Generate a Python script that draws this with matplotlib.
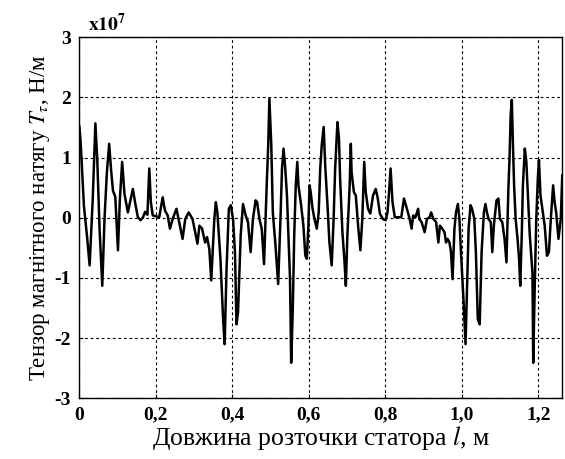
import numpy as np
import matplotlib
matplotlib.use("Agg")
import matplotlib.pyplot as plt

# Tangential magnetic tension along the stator bore (values in units of 1e7 N/m)
l_m = [0.000, 0.003, 0.006, 0.012, 0.020, 0.027, 0.035, 0.042, 0.047, 0.053,
       0.060, 0.066, 0.072, 0.078, 0.083, 0.088, 0.094, 0.101, 0.106, 0.112,
       0.118, 0.127, 0.134, 0.140, 0.146, 0.153, 0.160, 0.166, 0.172, 0.178,
       0.183, 0.187, 0.192, 0.209, 0.218, 0.224, 0.231, 0.237, 0.244, 0.254,
       0.261, 0.270, 0.277, 0.286, 0.296, 0.309, 0.314, 0.321, 0.329, 0.334,
       0.340, 0.345, 0.353, 0.357, 0.361, 0.369, 0.376, 0.380, 0.385, 0.391,
       0.396, 0.402, 0.407, 0.411, 0.415, 0.422, 0.428, 0.435, 0.441, 0.448,
       0.454, 0.461, 0.465, 0.471, 0.477, 0.483, 0.490, 0.494, 0.497, 0.502,
       0.506, 0.513, 0.520, 0.526, 0.530, 0.534, 0.538, 0.543, 0.547, 0.551,
       0.554, 0.558, 0.562, 0.566, 0.570, 0.573, 0.580, 0.586, 0.591, 0.595,
       0.599, 0.602, 0.605, 0.610, 0.615, 0.621, 0.626, 0.630, 0.634, 0.639,
       0.643, 0.649, 0.654, 0.660, 0.665, 0.669, 0.675, 0.679, 0.682, 0.688,
       0.693, 0.697, 0.701, 0.707, 0.710, 0.712, 0.718, 0.723, 0.729, 0.735,
       0.740, 0.745, 0.749, 0.755, 0.761, 0.768, 0.775, 0.780, 0.786, 0.794,
       0.801, 0.806, 0.810, 0.814, 0.819, 0.825, 0.834, 0.842, 0.849, 0.854,
       0.858, 0.864, 0.869, 0.873, 0.879, 0.886, 0.889, 0.895, 0.903, 0.909,
       0.916, 0.920, 0.926, 0.933, 0.939, 0.943, 0.949, 0.955, 0.959, 0.963,
       0.968, 0.972, 0.976, 0.981, 0.985, 0.990, 0.994, 0.998, 1.005, 1.010,
       1.014, 1.018, 1.023, 1.027, 1.033, 1.037, 1.042, 1.047, 1.052, 1.058,
       1.062, 1.066, 1.070, 1.076, 1.080, 1.084, 1.091, 1.096, 1.100, 1.106,
       1.112, 1.117, 1.122, 1.125, 1.128, 1.131, 1.134, 1.137, 1.141, 1.146,
       1.150, 1.153, 1.157, 1.160, 1.165, 1.169, 1.173, 1.178, 1.185, 1.187,
       1.191, 1.195, 1.199, 1.202, 1.206, 1.212, 1.217, 1.223, 1.228, 1.233,
       1.239, 1.243, 1.247, 1.253, 1.259, 1.263, 1.267]
T_tau = [1.52, 1.30, 0.95, 0.20, -0.30, -0.79, 0.30, 1.57, 0.95, -0.20,
         -1.13, 0.00, 0.75, 1.23, 0.80, 0.45, 0.35, -0.54, 0.30, 0.93,
         0.40, 0.09, 0.30, 0.48, 0.25, 0.01, -0.04, 0.00, 0.10, 0.05,
         0.82, 0.26, 0.04, 0.01, 0.34, 0.12, 0.04, -0.18, -0.02, 0.15,
         -0.07, -0.35, -0.02, 0.09, -0.02, -0.43, -0.13, -0.18, -0.41, -0.32,
         -0.52, -1.04, -0.02, 0.26, 0.09, -0.68, -1.68, -2.10, -0.85, 0.15,
         0.21, -0.02, -0.57, -1.77, -1.57, -0.29, 0.23, 0.04, -0.07, -0.57,
         -0.02, 0.29, 0.26, -0.02, -0.18, -0.77, 0.54, 1.21, 1.98, 1.21,
         0.09, -0.46, -1.10, -0.02, 0.82, 1.15, 0.87, 0.37, -0.35, -1.02,
         -2.41, -1.57, -0.29, 0.54, 0.93, 0.54, 0.21, -0.13, -0.63, -0.68,
         -0.13, 0.54, 0.43, 0.15, -0.02, -0.18, 0.09, 0.82, 1.21, 1.51,
         0.87, 0.21, -0.41, -0.79, -0.02, 0.82, 1.59, 1.32, 0.65, -0.24,
         -0.68, -1.13, -0.29, 0.54, 1.23, 0.76, 0.43, 0.37, -0.13, -0.54,
         -0.02, 0.93, 0.43, 0.15, 0.07, 0.37, 0.48, 0.34, 0.07, -0.02,
         -0.04, 0.09, 0.43, 0.82, 0.26, 0.01, 0.01, 0.01, 0.32, 0.21,
         0.12, -0.02, -0.18, 0.04, 0.01, 0.15, -0.02, -0.07, -0.24, -0.02,
         0.01, 0.09, -0.02, -0.07, -0.41, -0.13, -0.18, -0.24, -0.41, -0.35,
         -0.41, -0.57, -1.02, -0.18, 0.09, 0.23, -0.02, -0.57, -1.41, -2.10,
         -1.13, -0.18, 0.21, 0.15, -0.02, -0.57, -1.68, -1.77, -0.57, 0.09,
         0.23, 0.09, -0.02, -0.07, -0.57, -0.13, 0.29, 0.32, -0.02, -0.07,
         -0.35, -0.74, 0.48, 0.98, 1.71, 1.96, 1.21, 0.54, -0.02, -0.35,
         -0.68, -1.13, -0.29, 0.54, 1.15, 0.93, 0.37, -0.29, -0.91, -2.41,
         -1.13, -0.02, 0.65, 0.96, 0.37, 0.09, -0.13, -0.63, -0.57, -0.02,
         0.54, 0.26, 0.09, -0.35, -0.02, 0.71, 0.37]

x_ticks = [0, 0.2, 0.4, 0.6, 0.8, 1.0, 1.2]
x_tick_labels = ['0', '0,2', '0,4', '0,6', '0,8', '1,0', '1,2']
y_ticks = [-3, -2, -1, 0, 1, 2, 3]

plt.rcParams['font.family'] = 'Liberation Serif'
plt.rcParams['mathtext.fontset'] = 'stix'
plt.rcParams['axes.unicode_minus'] = False

fig = plt.figure(figsize=(5.65, 4.59), dpi=100)
ax = fig.add_axes([0.1404, 0.1322, 0.8548, 0.7865])

ax.plot(l_m, T_tau, color='black', linewidth=1.8)

ax.set_xlim(0, 1.263)
ax.set_ylim(-3, 3)
ax.set_xticks(x_ticks)
ax.set_xticklabels(x_tick_labels)
ax.set_yticks(y_ticks)
ax.set_yticklabels([str(v) for v in y_ticks])
for lab in ax.get_xticklabels() + ax.get_yticklabels():
    lab.set_fontweight('bold')
    lab.set_fontsize(14)
ax.tick_params(direction='in', length=3, width=0.8, pad=6)

ax.grid(True, color='black', linestyle=(0, (2.5, 2.5)), linewidth=0.8)
for s in ax.spines.values():
    s.set_linewidth(1.0)

ax.text(0.018, 1.005, r'$\mathbf{x10^7}$', transform=ax.transAxes,
        fontsize=14, ha='left', va='bottom')

ax.set_xlabel(r'Довжина розточки статора $l$, м', fontsize=18.5, labelpad=0)
ax.set_ylabel(r'Тензор магнітного натягу $T_\tau$, Н/м', fontsize=16.5, labelpad=2)

fig.savefig('out.png', dpi=100)
